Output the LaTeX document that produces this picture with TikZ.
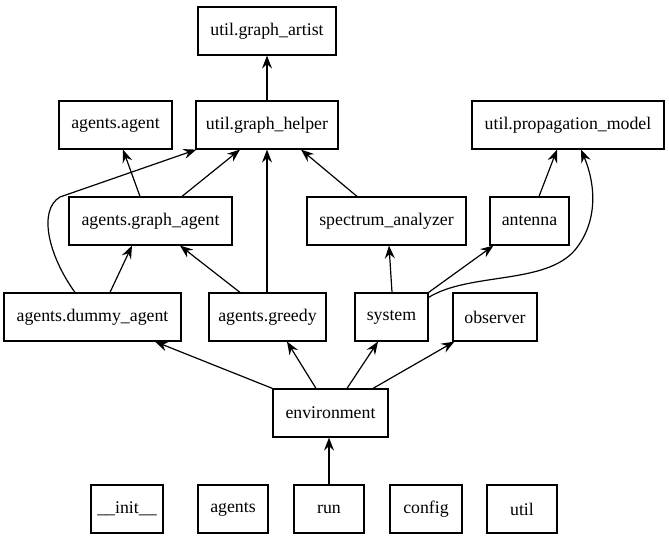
\documentclass[tikz,border=0pt]{standalone}
\usepackage{fontspec}
\setmainfont{Liberation Serif}
\usetikzlibrary{arrows.meta}
\begin{document}
\begin{tikzpicture}[x=1bp,y=-1bp,
  mod/.style={draw,line width=1.2bp,inner sep=0pt,minimum height=48bp,
    font=\fontsize{17.8bp}{20bp}\selectfont},
  dep/.style={line width=1.2bp,-{Stealth[length=13bp,width=10bp,inset=4.5bp]}}]
\useasboundingbox (0,0) rectangle (669,539);
% modules
\node[mod,minimum width=138bp] (art) at (267,31) {util.graph\_artist};
\node[mod,minimum width=113bp] (aa) at (115.5,125) {agents.agent};
\node[mod,minimum width=142bp] (gh) at (267,125) {util.graph\_helper};
\node[mod,minimum width=192bp] (pm) at (568,125) {util.propagation\_model};
\node[mod,minimum width=163bp] (ga) at (150.5,221) {agents.graph\_agent};
\node[mod,minimum width=159bp] (sa) at (386.5,221) {spectrum\_analyzer};
\node[mod,minimum width=79bp] (ant) at (529.5,221) {antenna};
\node[mod,minimum width=177bp] (da) at (92.5,317) {agents.dummy\_agent};
\node[mod,minimum width=117bp] (gr) at (267.5,317) {agents.greedy};
\node[mod,minimum width=73bp] (sys) at (391.5,317) {system};
\node[mod,minimum width=84bp] (obs) at (495,317) {observer};
\node[mod,minimum width=115bp] (env) at (330.5,413) {environment};
\node[mod,minimum width=72bp] (init) at (127,509) {\_\_init\_\_};
\node[mod,minimum width=70bp] (agents) at (233,509) {agents};
\node[mod,minimum width=70bp] (run) at (329,509) {run};
\node[mod,minimum width=72bp] (config) at (426,509) {config};
\node[mod,minimum width=70bp] (util) at (522,509) {util};
% imports
\draw[dep] (gh.north) -- (art.south);
\draw[dep] ([xshift=-10.5bp]ga.north) -- ([xshift=7.5bp]aa.south);
\draw[dep] ([xshift=31.5bp]ga.north) -- ([xshift=-27bp]gh.south);
\draw[dep] ([xshift=-17.5bp]da.north) .. controls (48,255) and (38,210) .. (60,197)
  -- ([xshift=1bp]gh.south west);
\draw[dep] ([xshift=17.5bp]da.north) -- ([xshift=-18.5bp]ga.south);
\draw[dep] ([xshift=-27.5bp]gr.north) -- ([xshift=29.5bp]ga.south);
\draw[dep] (gr.north -| gh.south) -- (gh.south);
\draw[dep] ([xshift=-29.5bp]sa.north) -- ([xshift=34bp]gh.south);
\draw[dep] ([xshift=9.5bp]ant.north) -- ([xshift=-11bp]pm.south);
\draw[dep] ([xshift=0.5bp]sys.north) -- ([xshift=2.5bp]sa.south);
\draw[dep] (sys.north east) -- ([xshift=4bp]ant.south west);
\draw[dep] ([yshift=-5bp]sys.north east) .. controls (470,272) and (545,285) .. (575,250)
  .. controls (598,222) and (596,185) .. ([xshift=13bp]pm.south);
\draw[dep] (env.north west) -- ([xshift=62.5bp]da.south);
\draw[dep] ([xshift=-14.5bp]env.north) -- ([xshift=19.5bp]gr.south);
\draw[dep] ([xshift=16.5bp]env.north) -- ([xshift=-13.5bp]sys.south);
\draw[dep] ([xshift=42.5bp]env.north) -- ([xshift=2bp]obs.south west);
\draw[dep] (run.north) -- (run.north |- env.south);
\end{tikzpicture}
\end{document}
